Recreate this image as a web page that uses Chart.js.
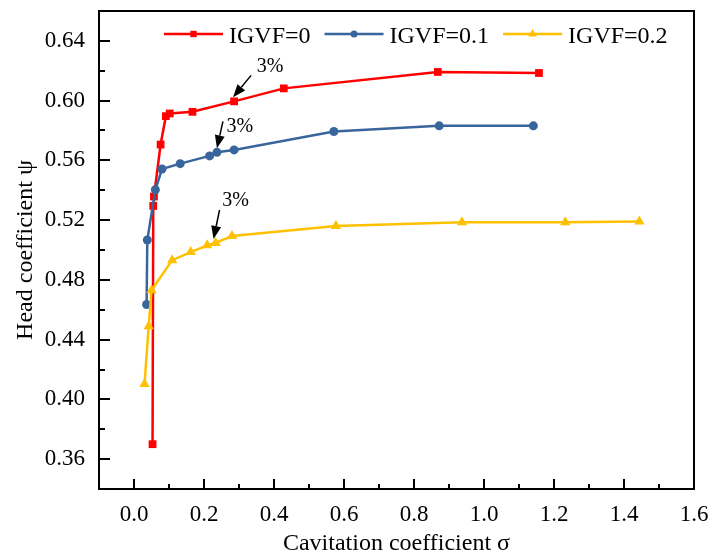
<!DOCTYPE html>
<html>
<head>
<meta charset="utf-8">
<title>Head coefficient vs cavitation coefficient</title>
<script src="https://cdn.jsdelivr.net/npm/chart.js@4.4.1/dist/chart.umd.min.js"></script>
<style>
    html, body { margin: 0; padding: 0; background: #fff; }
    #wrap { width: 710px; height: 556px; }
</style>
</head>
<body>
<div id="wrap"><canvas id="headChart" width="710" height="556"></canvas></div>
<script>
(function () {
    "use strict";

    // cavitation coefficient (sigma) and head coefficient (psi) per inlet gas fraction
    var sigma0 = [0.053, 0.055, 0.057, 0.076, 0.091, 0.102, 0.167, 0.286, 0.428, 0.868, 1.157];
    var psi0   = [0.370, 0.5295, 0.5358, 0.5706, 0.5896, 0.5914, 0.5925, 0.5995, 0.6082, 0.6192, 0.6185];

    var sigma1 = [0.036, 0.038, 0.061, 0.080, 0.132, 0.216, 0.237, 0.286, 0.571, 0.872, 1.141];
    var psi1   = [0.4635, 0.5067, 0.5403, 0.5542, 0.5578, 0.5630, 0.5654, 0.5670, 0.5793, 0.5831, 0.5831];

    var sigma2 = [0.030, 0.042, 0.050, 0.109, 0.162, 0.209, 0.233, 0.280, 0.577, 0.937, 1.232, 1.444];
    var psi2   = [0.4103, 0.4489, 0.4731, 0.4932, 0.4986, 0.5031, 0.5047, 0.5094, 0.516, 0.5185, 0.5185, 0.519];

    var seriesNames = ["IGVF=0", "IGVF=0.1", "IGVF=0.2"];

    var xTicks = [0.0, 0.2, 0.4, 0.6, 0.8, 1.0, 1.2, 1.4, 1.6];
    var yTicks = [0.36, 0.40, 0.44, 0.48, 0.52, 0.56, 0.60, 0.64];

    // the 3% head-drop point on each curve (point index in its series)
    var dropIndex = [7, 6, 6];
    var dropLabel = "3%";

    var FONT = '"Liberation Serif", "Times New Roman", serif';

    function pairs(xs, ys) {
        return xs.map(function (x, i) { return { x: x, y: ys[i] }; });
    }

    var styles = [
        { color: "#ff0000", pointStyle: "rect", radius: 5.5 },
        { color: "#38669c", pointStyle: "circle", radius: 4.5 },
        { color: "#ffc000", pointStyle: "triangle", radius: 6 }
    ];

    var allData = [pairs(sigma0, psi0), pairs(sigma1, psi1), pairs(sigma2, psi2)];

    var datasets = allData.map(function (d, i) {
        return {
            label: seriesNames[i],
            data: d,
            borderColor: styles[i].color,
            backgroundColor: styles[i].color,
            borderWidth: 2.5,
            pointStyle: styles[i].pointStyle,
            pointRadius: styles[i].radius,
            pointBorderWidth: 0,
            pointHoverRadius: styles[i].radius,
            tension: 0,
            order: 3 - i
        };
    });

    // arrow offsets (px) from the marked point: tip, tail, text centre
    var arrowOffsets = [
        { tip: [-1, -4], tail: [17, -26], text: [36, -35] },
        { tip: [0, -4], tail: [6, -31], text: [23, -26] },
        { tip: [-2, -4], tail: [4, -33], text: [20, -42] }
    ];

    function drawArrow(ctx, x0, y0, x1, y1) {
        var ang = Math.atan2(y1 - y0, x1 - x0);
        var headLen = 13, headW = 5;
        var bx = x1 - headLen * Math.cos(ang), by = y1 - headLen * Math.sin(ang);
        ctx.beginPath();
        ctx.moveTo(x0, y0);
        ctx.lineTo(bx, by);
        ctx.stroke();
        ctx.beginPath();
        ctx.moveTo(x1, y1);
        ctx.lineTo(bx + headW * Math.sin(ang), by - headW * Math.cos(ang));
        ctx.lineTo(bx - headW * Math.sin(ang), by + headW * Math.cos(ang));
        ctx.closePath();
        ctx.fill();
    }

    var decorations = {
        id: "decorations",
        afterDraw: function (chart) {
            var ctx = chart.ctx;
            var area = chart.chartArea;
            var xs = chart.scales.x, ys = chart.scales.y;
            ctx.save();

            // frame
            ctx.strokeStyle = "#000";
            ctx.lineWidth = 2;
            ctx.strokeRect(area.left, area.top, area.right - area.left, area.bottom - area.top);

            // inward ticks, major + minor
            ctx.lineWidth = 2;
            ctx.beginPath();
            xTicks.forEach(function (v, i) {
                var px = Math.round(xs.getPixelForValue(v));
                ctx.moveTo(px, area.bottom);
                ctx.lineTo(px, area.bottom - 10);
                if (i > 0) {
                    var mx = Math.round(xs.getPixelForValue((v + xTicks[i - 1]) / 2));
                    ctx.moveTo(mx, area.bottom);
                    ctx.lineTo(mx, area.bottom - 5);
                }
            });
            yTicks.forEach(function (v, i) {
                var py = Math.round(ys.getPixelForValue(v));
                ctx.moveTo(area.left, py);
                ctx.lineTo(area.left + 11, py);
                if (i > 0) {
                    var my = Math.round(ys.getPixelForValue((v + yTicks[i - 1]) / 2));
                    ctx.moveTo(area.left, my);
                    ctx.lineTo(area.left + 6, my);
                }
            });
            ctx.stroke();

            // legend: line with marker, then name
            ctx.font = "24px " + FONT;
            ctx.textBaseline = "alphabetic";
            ctx.textAlign = "left";
            var lx = 164, ly = 34;
            seriesNames.forEach(function (name, i) {
                var st = styles[i];
                ctx.strokeStyle = st.color;
                ctx.fillStyle = st.color;
                ctx.lineWidth = 2.5;
                ctx.beginPath();
                ctx.moveTo(lx, ly);
                ctx.lineTo(lx + 59, ly);
                ctx.stroke();
                Chart.helpers.drawPoint(ctx, { pointStyle: st.pointStyle, radius: st.radius - 1, rotation: 0, borderWidth: 0 }, lx + 29.5, ly);
                ctx.fillStyle = "#000";
                ctx.fillText(name, lx + 65, ly + 9);
                lx += 65 + ctx.measureText(name).width + 14;
            });

            // 3% markers
            ctx.strokeStyle = "#000";
            ctx.fillStyle = "#000";
            ctx.lineWidth = 1.5;
            ctx.font = "20px " + FONT;
            ctx.textAlign = "center";
            ctx.textBaseline = "middle";
            dropIndex.forEach(function (j, i) {
                var pt = chart.getDatasetMeta(i).data[j];
                var o = arrowOffsets[i];
                drawArrow(ctx, pt.x + o.tail[0], pt.y + o.tail[1], pt.x + o.tip[0], pt.y + o.tip[1]);
                ctx.fillText(dropLabel, pt.x + o.text[0], pt.y + o.text[1]);
            });

            ctx.restore();
        }
    };

    var ctx = document.getElementById("headChart");
    new Chart(ctx, {
        type: "line",
        data: { datasets: datasets },
        options: {
            responsive: false,
            animation: false,
            events: [],
            layout: { padding: { top: 11, right: 16, left: 0, bottom: 0 } },
            plugins: {
                legend: { display: false },
                tooltip: { enabled: false }
            },
            scales: {
                x: {
                    type: "linear",
                    min: -0.1,
                    max: 1.6,
                    grid: { display: false, drawTicks: false },
                    border: { display: false },
                    afterBuildTicks: function (scale) {
                        scale.ticks = xTicks.map(function (v) { return { value: v }; });
                    },
                    afterFit: function (scale) {
                        scale.height = 67;
                        scale.paddingLeft = 0;
                        scale.paddingRight = 0;
                    },
                    ticks: {
                        padding: 12,
                        color: "#000",
                        maxRotation: 0,
                        autoSkip: false,
                        font: { family: FONT, size: 23 },
                        callback: function (v) { return Number(v).toFixed(1); }
                    },
                    title: {
                        display: true,
                        text: "Cavitation coefficient σ",
                        color: "#000",
                        font: { family: FONT, size: 24 },
                        padding: { top: 0, bottom: -2 }
                    }
                },
                y: {
                    type: "linear",
                    min: 0.34,
                    max: 0.66,
                    grid: { display: false, drawTicks: false },
                    border: { display: false },
                    afterBuildTicks: function (scale) {
                        scale.ticks = yTicks.map(function (v) { return { value: v }; });
                    },
                    afterFit: function (scale) {
                        scale.width = 99;
                        scale.paddingTop = 0;
                        scale.paddingBottom = 0;
                    },
                    ticks: {
                        padding: 14,
                        color: "#000",
                        autoSkip: false,
                        font: { family: FONT, size: 23 },
                        callback: function (v) { return Number(v).toFixed(2); }
                    },
                    title: {
                        display: true,
                        text: "Head coefficient ψ",
                        color: "#000",
                        font: { family: FONT, size: 24 },
                        padding: { top: 11, bottom: 0 }
                    }
                }
            }
        },
        plugins: [decorations]
    });
})();
</script>
</body>
</html>
